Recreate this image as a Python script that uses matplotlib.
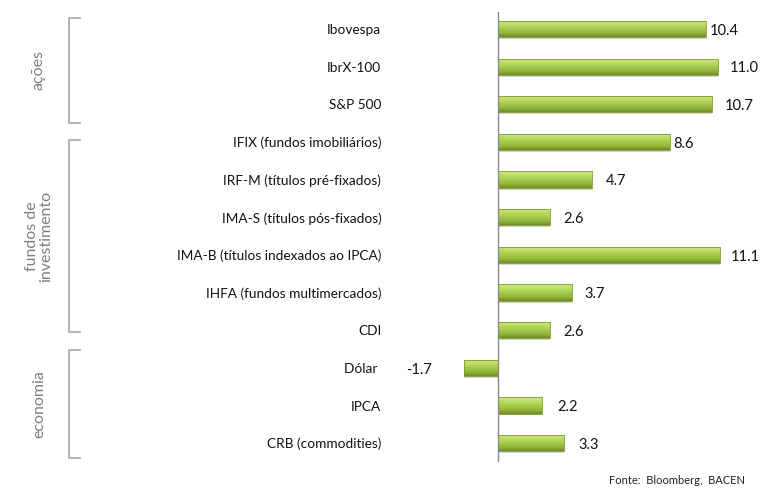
import numpy as np
import matplotlib
matplotlib.use("Agg")
import matplotlib.pyplot as plt
from matplotlib.colors import LinearSegmentedColormap
from matplotlib.transforms import blended_transform_factory

categories = ["Ibovespa", "IbrX-100", "S&P 500", "IFIX (fundos imobiliários)",
              "IRF-M (títulos pré-fixados)", "IMA-S (títulos pós-fixados)",
              "IMA-B (títulos indexados ao IPCA)", "IHFA (fundos multimercados)",
              "CDI", "Dólar ", "IPCA", "CRB (commodities)"]
values = [10.4, 11.0, 10.7, 8.6, 4.7, 2.6, 11.1, 3.7, 2.6, -1.7, 2.2, 3.3]
value_labels = ["10.4", "11.0", "10.7", "8.6", "4.7", "2.6", "11.1", "3.7", "2.6", "-1.7", "2.2", "3.3"]
groups = ["ações", "fundos de\ninvestimento", "economia"]
source = "Fonte:  Bloomberg,  BACEN"

# layout (not data)
group_spans = [(-0.3, 2.5), (2.95, 8.05), (8.53, 11.4)]
label_gaps = [0.2, 0.6, 0.65, 0.15, 0.7, 0.65, 0.55, 0.6, 0.65, 1.6, 0.75, 0.7]

FONT = ["Lato", "DejaVu Sans"]
plt.rcParams["font.family"] = FONT

fig = plt.figure(figsize=(7.73, 4.90), dpi=100)
ax = fig.add_axes([400 / 773, 28 / 490, 373 / 773, 450 / 490])

y = np.arange(len(categories))
bh = 0.43
bars = ax.barh(y, values, height=bh, color="#a3c94a", edgecolor="none", zorder=2)

cmap = LinearSegmentedColormap.from_list(
    "g", ["#cfe98a", "#bddd68", "#a8cb4c", "#94b73c", "#728f28"])
grad = np.linspace(0, 1, 64).reshape(-1, 1)
for b in bars:
    x0, y0, w, h = b.get_x(), b.get_y(), b.get_width(), b.get_height()
    ax.add_patch(plt.Rectangle((x0, y0 + 0.05), w, h, color="#b0b0b0", alpha=0.5,
                               zorder=1, lw=0))
    im = ax.imshow(grad, cmap=cmap, aspect="auto",
                   extent=[x0, x0 + w, y0 + h, y0], zorder=3)
    im.set_clip_path(b)
    ax.add_patch(plt.Rectangle((x0, y0), w, h, fill=False, edgecolor="#7a9a30",
                               lw=0.6, zorder=4))

ax.set_xlim(-4.9, 13.75)
ax.set_ylim(11.5, -0.45)
ax.axvline(0, color="#8c8c8c", lw=1.0, zorder=5)

for yi, v, lab, gap in zip(y, values, value_labels, label_gaps):
    if v >= 0:
        ax.text(v + gap, yi + 0.05, lab, ha="left", va="center", fontsize=10.5,
                color="#111111")
    else:
        ax.text(v - gap, yi + 0.05, lab, ha="right", va="center", fontsize=10.5,
                color="#111111")

ax.set_yticks(y)
ax.set_yticklabels(categories, fontsize=9.8, color="#111111")
ax.tick_params(axis="y", length=0, pad=13.5)
ax.set_xticks([])
for s in ax.spines.values():
    s.set_visible(False)

# brackets
tr = blended_transform_factory(fig.transFigure, ax.transData)
bx = 69 / 773
tick = 11 / 773
for (g, (a, b)) in zip(groups, group_spans):
    ax.plot([bx + tick, bx, bx, bx + tick], [a, a, b, b], color="#a6a6a6", lw=1.2,
            transform=tr, clip_on=False)
    ax.text(39 / 773, (a + b) / 2, g, rotation=90, ha="center", va="center",
            fontsize=11.5, color="#7f7f7f", transform=tr, linespacing=1.05)

fig.text(745 / 773, 1 - 480 / 490, source, ha="right", va="center", fontsize=8,
         color="#222222")

fig.savefig("out.png", dpi=100)
